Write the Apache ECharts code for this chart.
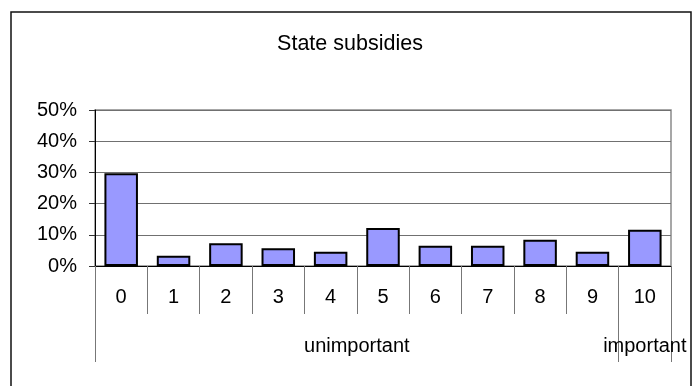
<!DOCTYPE html>
<html>
<head>
<meta charset="utf-8">
<title>State subsidies</title>
<script src="https://cdn.jsdelivr.net/npm/echarts@6/dist/echarts.min.js"></script>
<style>
  html, body { margin: 0; padding: 0; background: #fff; }
  #chart { width: 700px; height: 386px; }
</style>
</head>
<body>
<div id="chart"></div>
<script>
// Share of answers on a 0–10 importance scale
const categories = ['0', '1', '2', '3', '4', '5', '6', '7', '8', '9', '10'];
const shares = [0.297, 0.033, 0.073, 0.057, 0.046, 0.122, 0.065, 0.065, 0.084, 0.046, 0.116];

// Group labels under the scale: label text, its centre and its group edges
const groupLabels = ['unimportant', 'important'];
const groupCenters = [5, 10.5];
const groupEdges = [0, 10, 11];

const FONT = '"Liberation Sans", Arial, Helvetica, sans-serif';

const chart = echarts.init(document.getElementById('chart'), null, { renderer: 'canvas' });

chart.setOption({
  animation: false,
  backgroundColor: '#ffffff',
  title: {
    text: 'State subsidies',
    left: 'center',
    top: 28,
    textStyle: { fontFamily: FONT, fontSize: 21.5, fontWeight: 'normal', color: '#000' }
  },
  graphic: [{
    type: 'rect',
    shape: { x: 11, y: 12, width: 680, height: 392 },
    style: { fill: 'none', stroke: '#111', lineWidth: 1.5 },
    silent: true
  }],
  grid: {
    left: 95, right: 29, top: 110, bottom: 120,
    show: true, borderColor: '#8a8a8a', borderWidth: 1.5
  },
  xAxis: [{
    type: 'category',
    data: categories,
    position: 'bottom',
    boundaryGap: true,
    axisLine: { lineStyle: { color: '#000', width: 1 } },
    axisTick: { show: true, interval: 0, length: 48, lineStyle: { color: '#777' } },
    axisLabel: { interval: 0, margin: 21, fontFamily: FONT, fontSize: 20, color: '#000' },
    splitLine: { show: false }
  }, {
    type: 'value',
    min: 0,
    max: categories.length,
    position: 'bottom',
    axisLine: { show: false },
    axisTick: { show: true, length: 96, customValues: groupEdges, lineStyle: { color: '#777' } },
    axisLabel: {
      margin: 70,
      customValues: groupCenters,
      fontFamily: FONT, fontSize: 20, color: '#000',
      formatter: function (v) {
        const i = groupCenters.indexOf(v);
        return i >= 0 ? groupLabels[i] : '';
      }
    },
    splitLine: { show: false }
  }],
  yAxis: {
    type: 'value',
    min: 0,
    max: 0.5,
    interval: 0.1,
    axisLine: { show: true, lineStyle: { color: '#000', width: 1 } },
    axisTick: { show: true, length: 6, lineStyle: { color: '#333' } },
    axisLabel: {
      margin: 18, fontFamily: FONT, fontSize: 20, color: '#000',
      formatter: function (v) { return Math.round(v * 100) + '%'; }
    },
    splitLine: { show: true, lineStyle: { color: '#707070', width: 1 } }
  },
  series: [{
    type: 'bar',
    xAxisIndex: 0,
    data: shares,
    barCategoryGap: '36%',
    itemStyle: { color: '#9999ff', borderColor: '#000', borderWidth: 2 }
  }]
});
</script>
</body>
</html>
